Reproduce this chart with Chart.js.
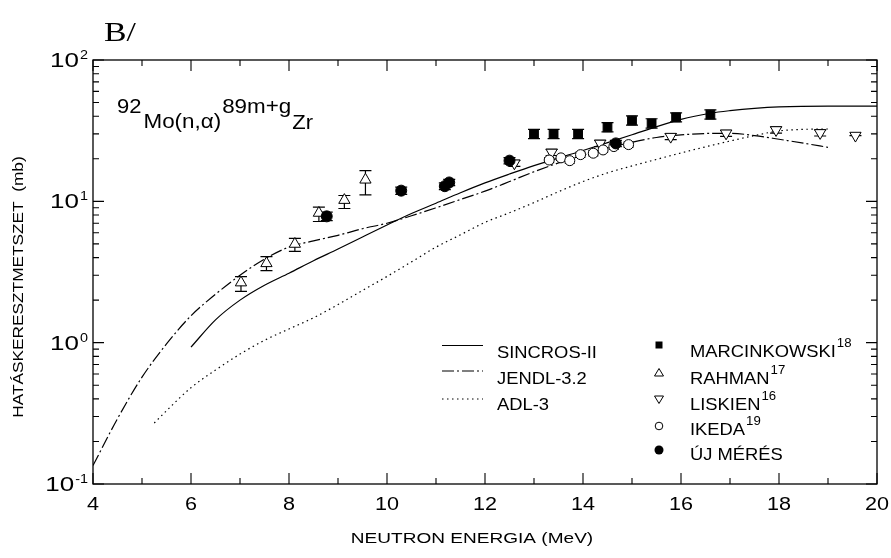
<!DOCTYPE html>
<html>
<head>
<meta charset="utf-8">
<script src="https://cdn.jsdelivr.net/npm/chart.js@4.4.0/dist/chart.umd.min.js"></script>
<style>
  html, body { margin: 0; padding: 0; background: #fff; }
  #wrap { width: 891px; height: 558px; }
</style>
</head>
<body>
<div id="wrap"><canvas id="xsChart" width="891" height="558"></canvas></div>
<script>
// ---- data (energy in MeV, cross section in mb) ----
const sincrosE  = [6, 6.5, 7, 7.5, 8, 8.5, 9, 9.5, 10, 10.5, 11, 11.5, 12, 12.5, 13, 14, 15, 16, 16.6, 17, 17.5, 18, 19, 20];
const sincrosXs = [0.93, 1.45, 2.0, 2.55, 3.1, 3.8, 4.6, 5.6, 6.8, 8.2, 9.7, 11.5, 13.5, 15.6, 17.9, 22.9, 29.6, 38, 42, 43.8, 45.5, 46.6, 47.2, 47.2];

const jendlE  = [4, 4.5, 5, 5.5, 6, 6.5, 7, 7.5, 8, 8.5, 9, 9.5, 10, 10.5, 11, 11.5, 12, 12.5, 13, 13.5, 14, 14.5, 15, 15.5, 16, 16.5, 17, 17.5, 18, 18.5, 19];
const jendlXs = [0.135, 0.29, 0.57, 0.98, 1.55, 2.2, 3.0, 3.9, 4.75, 5.25, 5.75, 6.4, 7.0, 7.9, 9.0, 10.3, 11.8, 13.8, 16.2, 18.7, 21.2, 23.8, 26.2, 28.3, 29.5, 30.2, 30.3, 29.2, 27.5, 25.8, 24.1];

const adlE  = [5.25, 5.5, 6, 6.5, 7, 7.5, 8, 8.5, 9, 9.5, 10, 10.5, 11, 11.5, 12, 12.5, 13, 13.5, 14, 14.5, 15, 15.5, 16, 16.5, 17, 17.5, 18, 18.5, 19];
const adlXs = [0.27, 0.33, 0.48, 0.64, 0.83, 1.04, 1.25, 1.5, 1.86, 2.34, 2.94, 3.73, 4.74, 5.8, 7.1, 8.3, 9.8, 11.7, 13.8, 15.9, 17.8, 19.8, 22.0, 24.3, 26.7, 29.2, 31.5, 32.3, 32.5];

const marcE  = [13.0, 13.4, 13.9, 14.5, 15.0, 15.4, 15.9, 16.6];
const marcXs = [30.0, 30.0, 30.0, 33.4, 37.3, 35.6, 39.3, 41.1];
const marcLo = [27.8, 27.8, 27.8, 31.0, 34.6, 33.0, 36.5, 38.2];
const marcHi = [32.3, 32.3, 32.3, 36.0, 40.2, 38.4, 42.3, 44.3];

const rahmanE  = [7.02, 7.54, 8.12, 8.61, 9.13, 9.56];
const rahmanXs = [2.66, 3.64, 4.99, 8.27, 10.2, 14.2];
const rahmanLo = [2.31, 3.23, 4.43, 7.2, 8.9, 11.1];
const rahmanHi = [2.93, 4.06, 5.47, 9.1, 11.0, 16.5];

const liskE  = [12.6, 13.36, 14.35, 15.79, 16.92, 17.94, 18.84, 19.56];
const liskXs = [18.6, 22.2, 25.7, 28.7, 30.3, 32.0, 30.5, 29.2];
const liskLo = [17.7, 21.1, 24.4, 27.3, 28.8, 30.4, 29.0, 29.2];
const liskHi = [19.5, 23.3, 27.0, 30.1, 31.8, 33.6, 32.0, 29.2];

const ikedaE  = [13.31, 13.55, 13.73, 13.95, 14.21, 14.41, 14.63, 14.93];
const ikedaXs = [19.6, 20.3, 19.4, 21.4, 21.9, 23.1, 24.4, 25.2];
const ikedaLo = [18.8, 19.5, 18.6, 20.5, 21.0, 22.2, 23.4, 24.2];
const ikedaHi = [20.4, 21.1, 20.2, 22.3, 22.8, 24.0, 25.4, 26.2];

const newE  = [8.77, 10.29, 11.18, 11.27, 12.5, 14.67];
const newXs = [7.83, 11.9, 12.8, 13.6, 19.4, 25.7];
const newLo = [7.3, 11.2, 12.1, 12.9, 18.4, 24.4];
const newHi = [8.4, 12.6, 13.5, 14.3, 20.4, 27.0];

const xMajorTicks = [4, 6, 8, 10, 12, 14, 16, 18, 20];
const xMinorTicks = [5, 7, 9, 11, 13, 15, 17, 19];
const yDecades = [0.1, 1, 10, 100];
const yDecadeLabels = [['10', '-1'], ['10', '0'], ['10', '1'], ['10', '2']];

const toPts = (xs, ys) => xs.map((x, i) => ({ x: x, y: ys[i] }));

// horizontally stretched text, the scan of the figure is wider than tall
function drawText(ctx, txt, x, y, font, sx, align) {
    ctx.save();
    ctx.font = font;
    ctx.textBaseline = 'alphabetic';
    const w = ctx.measureText(txt).width * sx;
    let x0 = x;
    if (align === 'center') x0 = x - w / 2;
    if (align === 'right') x0 = x - w;
    ctx.translate(x0, y);
    ctx.scale(sx, 1);
    ctx.fillText(txt, 0, 0);
    ctx.restore();
    return w;
}

const SANS = '"Liberation Sans", Arial, sans-serif';

// error bars under the markers
const errorBars = {
    id: 'errorBars',
    beforeDatasetsDraw(chart) {
        const ctx = chart.ctx, xs = chart.scales.x, ys = chart.scales.y;
        ctx.save();
        ctx.strokeStyle = '#000';
        ctx.lineWidth = 1.2;
        chart.data.datasets.forEach(ds => {
            if (!ds.errLo) return;
            ds.data.forEach((p, i) => {
                const px = xs.getPixelForValue(p.x);
                const y1 = ys.getPixelForValue(ds.errLo[i]);
                const y2 = ys.getPixelForValue(ds.errHi[i]);
                const c = ds.capW;
                ctx.beginPath();
                ctx.moveTo(px, y1); ctx.lineTo(px, y2);
                ctx.moveTo(px - c, y1); ctx.lineTo(px + c, y1);
                ctx.moveTo(px - c, y2); ctx.lineTo(px + c, y2);
                ctx.stroke();
            });
        });
        ctx.restore();
    }
};

// frame, inward ticks, tick labels, titles, legend and reaction label
const decorations = {
    id: 'decorations',
    afterDraw(chart) {
        const ctx = chart.ctx, xs = chart.scales.x, ys = chart.scales.y;
        const a = chart.chartArea;
        ctx.save();
        ctx.strokeStyle = '#000';
        ctx.fillStyle = '#000';
        ctx.lineWidth = 1.3;
        ctx.strokeRect(a.left, a.top, a.right - a.left, a.bottom - a.top);

        const MAJ = 11, MIN = 6;
        ctx.lineWidth = 1.1;
        ctx.beginPath();
        xMajorTicks.forEach(v => {
            const px = xs.getPixelForValue(v);
            ctx.moveTo(px, a.bottom); ctx.lineTo(px, a.bottom - MAJ);
            ctx.moveTo(px, a.top); ctx.lineTo(px, a.top + MAJ);
        });
        xMinorTicks.forEach(v => {
            const px = xs.getPixelForValue(v);
            ctx.moveTo(px, a.bottom); ctx.lineTo(px, a.bottom - MIN);
            ctx.moveTo(px, a.top); ctx.lineTo(px, a.top + MIN);
        });
        yDecades.forEach((d, k) => {
            const py = ys.getPixelForValue(d);
            ctx.moveTo(a.left, py); ctx.lineTo(a.left + MAJ, py);
            ctx.moveTo(a.right, py); ctx.lineTo(a.right - MAJ, py);
            if (k === yDecades.length - 1) return;
            for (let m = 2; m <= 9; m++) {
                const pm = ys.getPixelForValue(d * m);
                ctx.moveTo(a.left, pm); ctx.lineTo(a.left + MIN, pm);
                ctx.moveTo(a.right, pm); ctx.lineTo(a.right - MIN, pm);
            }
        });
        ctx.stroke();

        // tick labels
        xMajorTicks.forEach(v => {
            drawText(ctx, String(v), xs.getPixelForValue(v), 510, '18px ' + SANS, 1.2, 'center');
        });
        yDecades.forEach((d, k) => {
            const py = ys.getPixelForValue(d);
            const sup = yDecadeLabels[k][1];
            const ws = drawText(ctx, sup, 88, py - 1, '12px ' + SANS, 1.2, 'right');
            drawText(ctx, yDecadeLabels[k][0], 88 - ws - 1, py + 7, '20px ' + SANS, 1.3, 'right');
        });

        // axis titles
        drawText(ctx, 'NEUTRON ENERGIA (MeV)', 472, 543, '15px ' + SANS, 1.27, 'center');
        ctx.save();
        ctx.translate(23, 287);
        ctx.rotate(-Math.PI / 2);
        drawText(ctx, 'HATÁSKERESZTMETSZET  (mb)', 0, 0, '15px ' + SANS, 1.15, 'center');
        ctx.restore();

        // panel label
        drawText(ctx, 'B/', 104, 41, '27px "Liberation Serif", serif', 1.25, 'left');

        // reaction
        let x = 117;
        x += drawText(ctx, '92', x, 113, '20px ' + SANS, 1.1, 'left') + 2;
        x += drawText(ctx, 'Mo(n,α)', x, 128, '20px ' + SANS, 1.12, 'left') + 1;
        x += drawText(ctx, '89m+g', x, 113, '20px ' + SANS, 1.12, 'left') + 1;
        drawText(ctx, 'Zr', x, 129, '20px ' + SANS, 1.1, 'left');

        // legend, left column: curves
        const lineKeys = [
            { name: 'SINCROS-II', dash: [], ly: 345.5, ty: 357.5 },
            { name: 'JENDL-3.2', dash: [12, 3, 2, 3], ly: 371, ty: 383.5 },
            { name: 'ADL-3', dash: [1.5, 3.5], ly: 399, ty: 410 }
        ];
        lineKeys.forEach(k => {
            ctx.save();
            ctx.lineWidth = 1.2;
            ctx.setLineDash(k.dash);
            ctx.beginPath();
            ctx.moveTo(442, k.ly); ctx.lineTo(483, k.ly);
            ctx.stroke();
            ctx.restore();
            drawText(ctx, k.name, 497, k.ty, '17px ' + SANS, 1.08, 'left');
        });

        // legend, right column: measurements
        const mKeys = [
            { name: 'MARCINKOWSKI', sup: '18', my: 345, ty: 357, mark: 'square' },
            { name: 'RAHMAN', sup: '17', my: 373, ty: 383.5, mark: 'up' },
            { name: 'LISKIEN', sup: '16', my: 399, ty: 409.5, mark: 'down' },
            { name: 'IKEDA', sup: '19', my: 426, ty: 435, mark: 'open' },
            { name: 'ÚJ MÉRÉS', sup: '', my: 450, ty: 460, mark: 'dot' }
        ];
        mKeys.forEach(k => {
            const mx = 659;
            ctx.save();
            ctx.lineWidth = 1;
            ctx.beginPath();
            if (k.mark === 'square') {
                ctx.rect(mx - 3.5, k.my - 3.5, 7, 7); ctx.fill();
            } else if (k.mark === 'up') {
                ctx.moveTo(mx, k.my - 4.5); ctx.lineTo(mx + 4.5, k.my + 3); ctx.lineTo(mx - 4.5, k.my + 3); ctx.closePath(); ctx.stroke();
            } else if (k.mark === 'down') {
                ctx.moveTo(mx, k.my + 4.5); ctx.lineTo(mx + 4.5, k.my - 3); ctx.lineTo(mx - 4.5, k.my - 3); ctx.closePath(); ctx.stroke();
            } else if (k.mark === 'open') {
                ctx.arc(mx, k.my, 3.8, 0, Math.PI * 2); ctx.stroke();
            } else {
                ctx.arc(mx, k.my, 4.5, 0, Math.PI * 2); ctx.fill();
            }
            ctx.restore();
            const w = drawText(ctx, k.name, 690, k.ty, '17px ' + SANS, 1.08, 'left');
            if (k.sup) drawText(ctx, k.sup, 690 + w + 1, k.ty - 10, '12px ' + SANS, 1.1, 'left');
        });
        ctx.restore();
    }
};

const ctx = document.getElementById('xsChart').getContext('2d');
const xsChart = new Chart(ctx, {
    type: 'line',
    data: {
        datasets: [
            { label: 'ÚJ MÉRÉS', data: toPts(newE, newXs), showLine: false, pointStyle: 'circle', pointRadius: 5.5,
              backgroundColor: '#000', borderColor: '#000', borderWidth: 1, errLo: newLo, errHi: newHi, capW: 6 },
            { label: 'IKEDA', data: toPts(ikedaE, ikedaXs), showLine: false, pointStyle: 'circle', pointRadius: 5,
              backgroundColor: '#fff', borderColor: '#000', borderWidth: 1, errLo: ikedaLo, errHi: ikedaHi, capW: 5 },
            { label: 'LISKIEN', data: toPts(liskE, liskXs), showLine: false, pointStyle: 'triangle', rotation: 180, pointRadius: 6.5,
              backgroundColor: '#fff', borderColor: '#000', borderWidth: 1, errLo: liskLo, errHi: liskHi, capW: 6 },
            { label: 'RAHMAN', data: toPts(rahmanE, rahmanXs), showLine: false, pointStyle: 'triangle', pointRadius: 6.5,
              backgroundColor: '#fff', borderColor: '#000', borderWidth: 1, errLo: rahmanLo, errHi: rahmanHi, capW: 6 },
            { label: 'MARCINKOWSKI', data: toPts(marcE, marcXs), showLine: false, pointStyle: 'rect', pointRadius: 6.2,
              backgroundColor: '#000', borderColor: '#000', borderWidth: 1, errLo: marcLo, errHi: marcHi, capW: 6 },
            { label: 'SINCROS-II', data: toPts(sincrosE, sincrosXs), borderColor: '#000', borderWidth: 1.2,
              pointRadius: 0, cubicInterpolationMode: 'monotone', fill: false },
            { label: 'JENDL-3.2', data: toPts(jendlE, jendlXs), borderColor: '#000', borderWidth: 1.2,
              borderDash: [12, 3, 2, 3], pointRadius: 0, cubicInterpolationMode: 'monotone', fill: false },
            { label: 'ADL-3', data: toPts(adlE, adlXs), borderColor: '#000', borderWidth: 1.2,
              borderDash: [1.5, 3.5], pointRadius: 0, cubicInterpolationMode: 'monotone', fill: false }
        ]
    },
    options: {
        responsive: false,
        animation: false,
        layout: { padding: { left: 93, top: 60, right: 14, bottom: 74 } },
        scales: {
            x: { type: 'linear', min: 4, max: 20, display: false },
            y: { type: 'logarithmic', min: 0.1, max: 100, display: false }
        },
        plugins: {
            legend: { display: false },
            tooltip: { enabled: false }
        }
    },
    plugins: [errorBars, decorations]
});
</script>
</body>
</html>
